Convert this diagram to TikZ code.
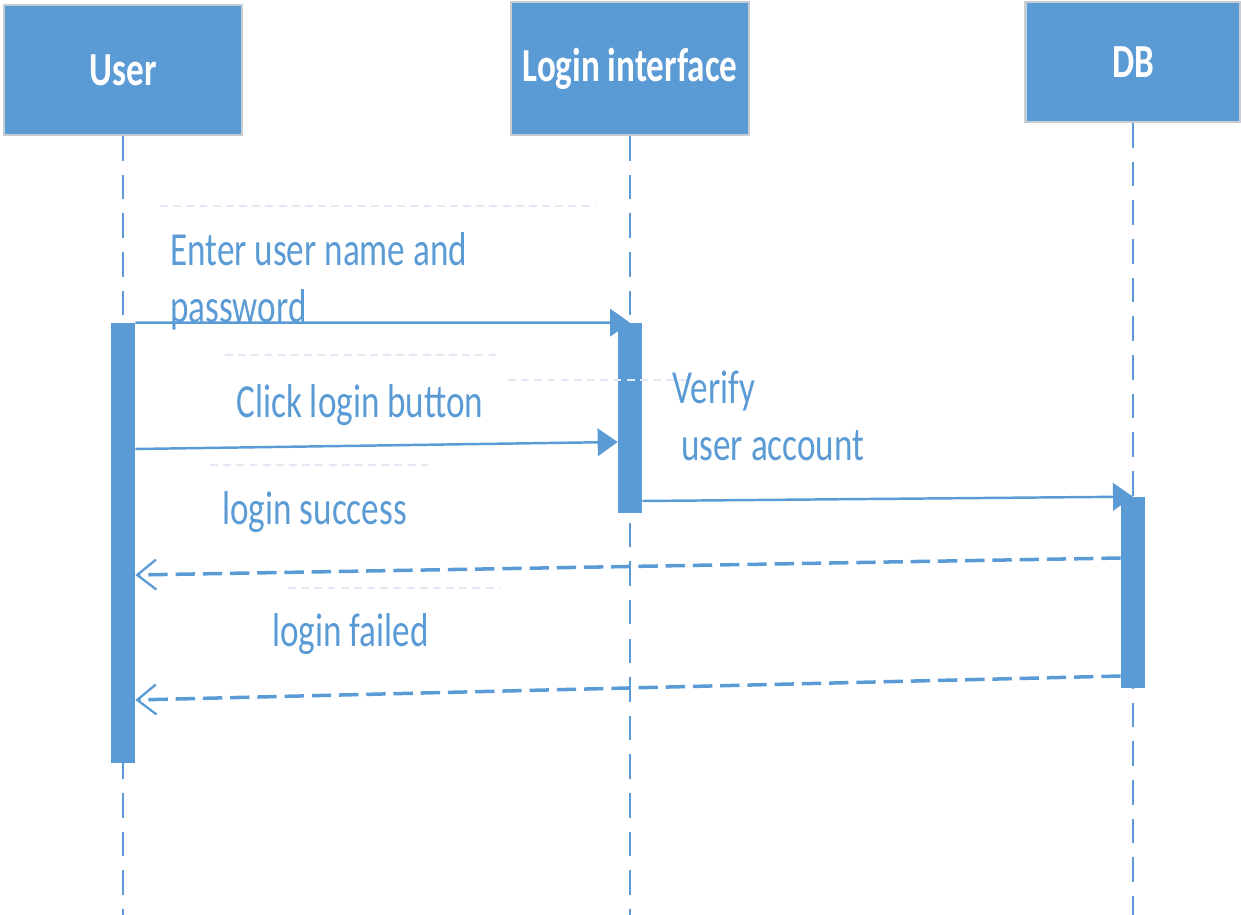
\documentclass[tikz,border=0pt]{standalone}
\usepackage{fontspec}
\setmainfont{Carlito}
\usepackage{graphicx}
\usetikzlibrary{arrows.meta, positioning}
\definecolor{boxblue}{RGB}{91,155,213}
\definecolor{boxedge}{RGB}{200,205,212}
\definecolor{ghostcolor}{RGB}{226,233,245}
\newcommand{\tall}[1]{\scalebox{1}[1.35]{#1}}
\tikzstyle{lifebox} = [rectangle, fill=boxblue, draw=boxedge, line width=1.2pt, text=white, font=\fontsize{20}{24}\selectfont\bfseries]
\tikzstyle{actbar} = [rectangle, fill=boxblue, draw=none, minimum width=0.48cm, inner sep=0pt]
\tikzstyle{lifeline} = [boxblue, line width=0.9pt, dash pattern=on 14pt off 8pt]
\tikzstyle{call} = [boxblue, line width=1.4pt, -{Triangle[length=0.4cm, width=0.55cm]}]
\tikzstyle{reply} = [boxblue, line width=2pt, dash pattern=on 11pt off 4.5pt, -{Straight Barb[length=0.38cm, width=0.6cm, line width=1.3pt]}]
\tikzstyle{msglabel} = [text=boxblue, font=\fontsize{20}{32.4}\selectfont, align=left, anchor=west, inner sep=0pt]
\tikzstyle{ghost} = [ghostcolor, line width=0.9pt, dash pattern=on 4.5pt off 3pt]

\begin{document}
\begin{tikzpicture}[x=0.02cm, y=-0.02cm]
\useasboundingbox (0,0) rectangle (1241,915);

% Heads
\node[lifebox, minimum width=4.76cm, minimum height=2.6cm] (user) at (123,70) {\tall{User}};
\node[lifebox, minimum width=4.76cm, minimum height=2.66cm] (login) at (630,68.5) {\tall{Login interface}};
\node[lifebox, minimum width=4.3cm, minimum height=2.4cm] (db) at (1133,62) {\tall{DB}};

% Lifelines
\coordinate (userend) at (123,915);
\coordinate (loginend) at (630,915);
\coordinate (dbend) at (1133,915);
\draw[lifeline] (user) -- (userend);
\draw[lifeline] (login) -- (loginend);
\draw[lifeline] (db) -- (dbend);

% Activation bars
\node[actbar, minimum height=8.8cm] (useract) at (123,543) {};
\node[actbar, minimum height=3.8cm] (loginact) at (630,418) {};
\node[actbar, minimum height=3.82cm] (dbact) at (1133,592.5) {};

% Faint text frames
\draw[ghost] (160,206) -- (595,206);
\draw[ghost] (225,355) -- (500,355);
\draw[ghost] (508,380) -- (690,380);
\draw[ghost] (210,465) -- (428,465);
\draw[ghost] (288,588) -- (500,588);

% Messages
\draw[call] (useract.north east) -- (loginact.north);
\draw[call] (useract.east |- 0,449) -- (loginact.west |- 0,442);
\draw[call] (loginact.east |- 0,501) -- (dbact.north);
\draw[reply] (dbact.west |- 0,558) -- (useract.east |- 0,575);
\draw[reply] (dbact.west |- 0,676) -- (useract.east |- 0,700);

% Labels
\node[msglabel] (enterlbl) at (170,281) {\tall{Enter user name and}\\\tall{password}};
\node[msglabel] (clicklbl) at (236,405) {\tall{Click login button}};
\node[msglabel] (verifylbl) at (672,416) {\tall{Verify}\\\hspace*{5pt}\tall{user account}};
\node[msglabel] (successlbl) at (222,512) {\tall{login success}};
\node[msglabel] (failedlbl) at (272,634) {\tall{login failed}};

\end{tikzpicture}
\end{document}
